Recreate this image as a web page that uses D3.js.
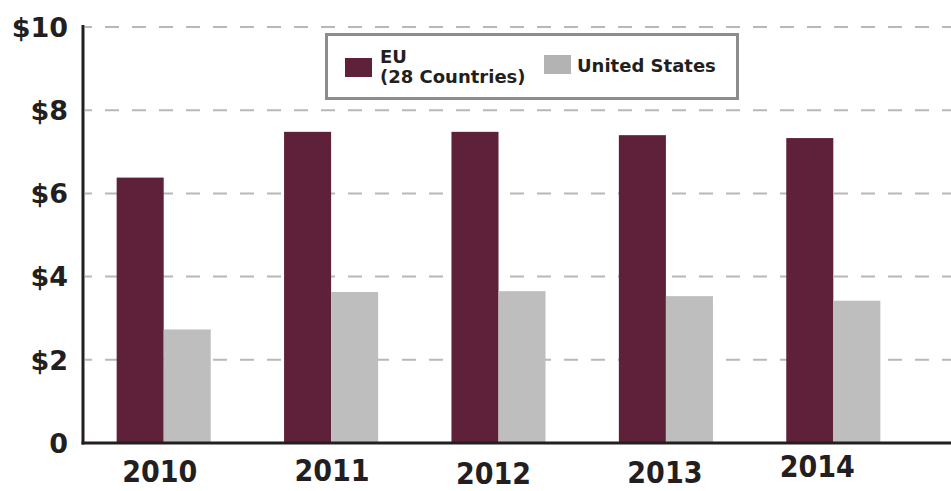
<!DOCTYPE html>
<html>
<head>
<meta charset="utf-8">
<script src="https://cdn.jsdelivr.net/npm/d3@7/dist/d3.min.js"></script>
<style>
  html, body { margin: 0; padding: 0; background: #fff; }
  svg { display: block; }
</style>
</head>
<body>
<svg id="chart" width="951" height="491"></svg>
<script>
const years = ["2010", "2011", "2012", "2013", "2014"];
const euValues = [6.38, 7.48, 7.48, 7.40, 7.33];
const usValues = [2.73, 3.63, 3.65, 3.53, 3.42];
const seriesNames = ["EU", "United States"];
const yTicks = [0, 2, 4, 6, 8, 10];
const yTickLabels = ["0", "$2", "$4", "$6", "$8", "$10"];

const W = 951, H = 491;
const svg = d3.select("#chart");

const x = d3.scaleBand().domain(years).range([80, 917]).paddingInner(0.438).paddingOuter(0.219);
const xs = d3.scaleBand().domain(seriesNames).range([0, x.bandwidth()]);
const y = d3.scaleLinear().domain([0, 10]).range([443, 27]);

// gridlines
svg.append("g").selectAll("line").data(yTicks.filter(d => d > 0)).join("line")
  .attr("x1", 85).attr("x2", W)
  .attr("y1", d => y(d)).attr("y2", d => y(d))
  .attr("stroke", "#b8b8b8").attr("stroke-width", 2)
  .attr("stroke-dasharray", "14,13").attr("stroke-dashoffset", 7);

// y tick labels
svg.append("g").selectAll("text").data(yTicks).join("text")
  .attr("x", 68).attr("y", d => y(d))
  .attr("dy", "0.36em")
  .attr("text-anchor", "end")
  .attr("font-family", "DejaVu Sans, sans-serif").attr("font-weight", "bold")
  .attr("font-size", 27).attr("fill", "#231f20")
  .text((d, i) => yTickLabels[i]);

// bars
const colors = { "EU": "#5e2139", "United States": "#bfbebe" };
const groups = svg.append("g").selectAll("g").data(years).join("g")
  .attr("transform", d => `translate(${x(d)},0)`);
groups.selectAll("rect").data((d, i) => [
    { s: "EU", v: euValues[i] },
    { s: "United States", v: usValues[i] }
  ]).join("rect")
  .attr("x", d => xs(d.s)).attr("width", xs.bandwidth())
  .attr("y", d => y(d.v)).attr("height", d => y(0) - y(d.v))
  .attr("fill", d => colors[d.s]);

// axes lines
svg.append("line").attr("x1", 83).attr("x2", 83).attr("y1", 25).attr("y2", 444.5)
  .attr("stroke", "#231f20").attr("stroke-width", 3);
svg.append("line").attr("x1", 81.5).attr("x2", W).attr("y1", 443).attr("y2", 443)
  .attr("stroke", "#231f20").attr("stroke-width", 3);

// x labels (slight hand-placed jitter as in original)
const nudge = [[-4, -1], [1, -2], [-5, 1], [-1, 0], [-16, -6]];
svg.append("g").selectAll("text").data(years).join("text")
  .attr("x", (d, i) => x(d) + x.bandwidth() / 2 + nudge[i][0])
  .attr("y", (d, i) => 483 + nudge[i][1])
  .attr("text-anchor", "middle")
  .attr("font-family", "DejaVu Sans Condensed, DejaVu Sans, sans-serif")
  .attr("font-stretch", "condensed")
  .attr("font-weight", "bold").attr("font-size", 30).attr("fill", "#231f20")
  .text(d => d);

// legend
const lg = svg.append("g");
lg.append("rect").attr("x", 326.5).attr("y", 34.5).attr("width", 411).attr("height", 64)
  .attr("fill", "#fff").attr("stroke", "#8c8c8c").attr("stroke-width", 3);
lg.append("rect").attr("x", 345).attr("y", 58).attr("width", 27).attr("height", 19).attr("fill", "#5e2139");
lg.append("rect").attr("x", 544).attr("y", 55).attr("width", 27).attr("height", 19).attr("fill", "#b3b3b3");
const lt = lg.append("text").attr("font-family", "DejaVu Sans, sans-serif").attr("font-weight", "bold")
  .attr("font-size", 18).attr("fill", "#231f20");
lt.append("tspan").attr("x", 380).attr("y", 63).text("EU");
lt.append("tspan").attr("x", 380).attr("y", 83).text("(28 Countries)");
lg.append("text").attr("x", 577).attr("y", 72)
  .attr("font-family", "DejaVu Sans, sans-serif").attr("font-weight", "bold")
  .attr("font-size", 18).attr("fill", "#231f20").text("United States");
</script>
</body>
</html>
